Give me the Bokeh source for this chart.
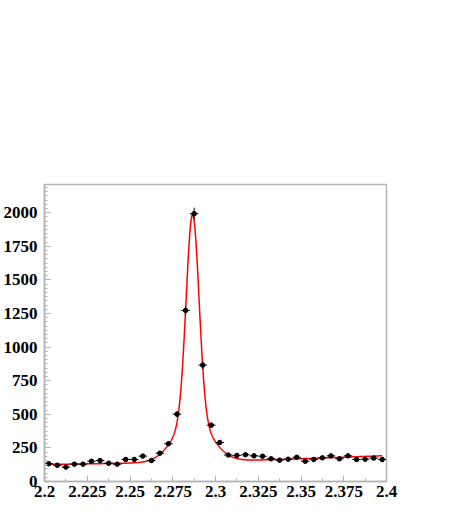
import numpy as np
from bokeh.plotting import figure
from bokeh.models import SingleIntervalTicker, FixedTicker, CustomJSTickFormatter, ColumnDataSource
from bokeh.embed import file_html
from bokeh.resources import INLINE

# ---- data ----
bin_lo = 2.2
bin_width = 0.005
counts = [132, 121, 107, 129, 129, 151, 156, 136, 129, 164,
          164, 189, 156, 211, 281, 501, 1273, 1993, 866, 419,
          290, 197, 194, 199, 191, 188, 169, 159, 166, 180,
          151, 164, 176, 191, 169, 191, 164, 166, 174, 164]
x_major_ticks = [2.2, 2.225, 2.25, 2.275, 2.3, 2.325, 2.35, 2.375, 2.4]
x_minor_ticks = [2.2125, 2.2375, 2.2625, 2.2875, 2.3125, 2.3375, 2.3625, 2.3875]

# fit parameters (double gaussian + quadratic background)
fit_mean = 2.2866
fit_amp1 = 1524.0
fit_sigma1 = 0.00374
fit_amp2 = 316.0
fit_sigma2 = 0.0106
bg_c0, bg_c1, bg_c2 = 150.9, 330.0, 907.0
bg_ref = 2.3
fit_lo, fit_hi = 2.2, 2.3975

centers = [bin_lo + bin_width * (i + 0.5) for i in range(len(counts))]
errs = [np.sqrt(c) for c in counts]

xf = np.linspace(fit_lo, fit_hi, 1200)
u = xf - bg_ref
yf = (bg_c0 + bg_c1 * u + bg_c2 * u ** 2
      + fit_amp1 * np.exp(-(xf - fit_mean) ** 2 / (2 * fit_sigma1 ** 2))
      + fit_amp2 * np.exp(-(xf - fit_mean) ** 2 / (2 * fit_sigma2 ** 2)))

src = ColumnDataSource(dict(
    x=centers, y=counts,
    x0=[c - bin_width / 2 for c in centers], x1=[c + bin_width / 2 for c in centers],
    y0=[c - e for c, e in zip(counts, errs)], y1=[c + e for c, e in zip(counts, errs)],
))

p = figure(width=460, height=515, x_range=(2.2, 2.4), y_range=(0, 2210),
           output_backend="svg", toolbar_location=None,
           min_border_left=42, min_border_right=74, min_border_top=184, min_border_bottom=34)

p.grid.visible = False
p.outline_line_color = "#b4b4b4"
p.outline_line_width = 1.5
p.background_fill_color = "white"
p.border_fill_color = "white"

for ax in (p.xaxis[0], p.yaxis[0]):
    ax.axis_line_color = "#b4b4b4"
    ax.axis_line_width = 1.5
    ax.major_tick_line_color = "#b4b4b4"
    ax.minor_tick_line_color = "#b4b4b4"
    ax.major_tick_in = 6
    ax.major_tick_out = 0
    ax.minor_tick_in = 3
    ax.minor_tick_out = 0
    ax.major_label_text_font = "Liberation Serif"
    ax.major_label_text_font_style = "bold"
    ax.major_label_text_font_size = "17px"
    ax.major_label_text_color = "black"

p.xaxis[0].ticker = FixedTicker(ticks=x_major_ticks, minor_ticks=x_minor_ticks)
p.yaxis[0].ticker = SingleIntervalTicker(interval=250, num_minor_ticks=8)
p.xaxis[0].formatter = CustomJSTickFormatter(code="return parseFloat(tick.toFixed(4)).toString();")
p.xaxis[0].major_label_standoff = 4
p.yaxis[0].major_label_standoff = 7

p.line(xf, yf, line_color="red", line_width=1.5)
p.segment(x0="x0", y0="y", x1="x1", y1="y", source=src, line_color="black", line_width=1)
p.segment(x0="x", y0="y0", x1="x", y1="y1", source=src, line_color="black", line_width=1)
p.scatter(x="x", y="y", source=src, size=4.5, marker="circle", fill_color="black", line_color="black")

open("out.html", "w").write(file_html(p, INLINE))
